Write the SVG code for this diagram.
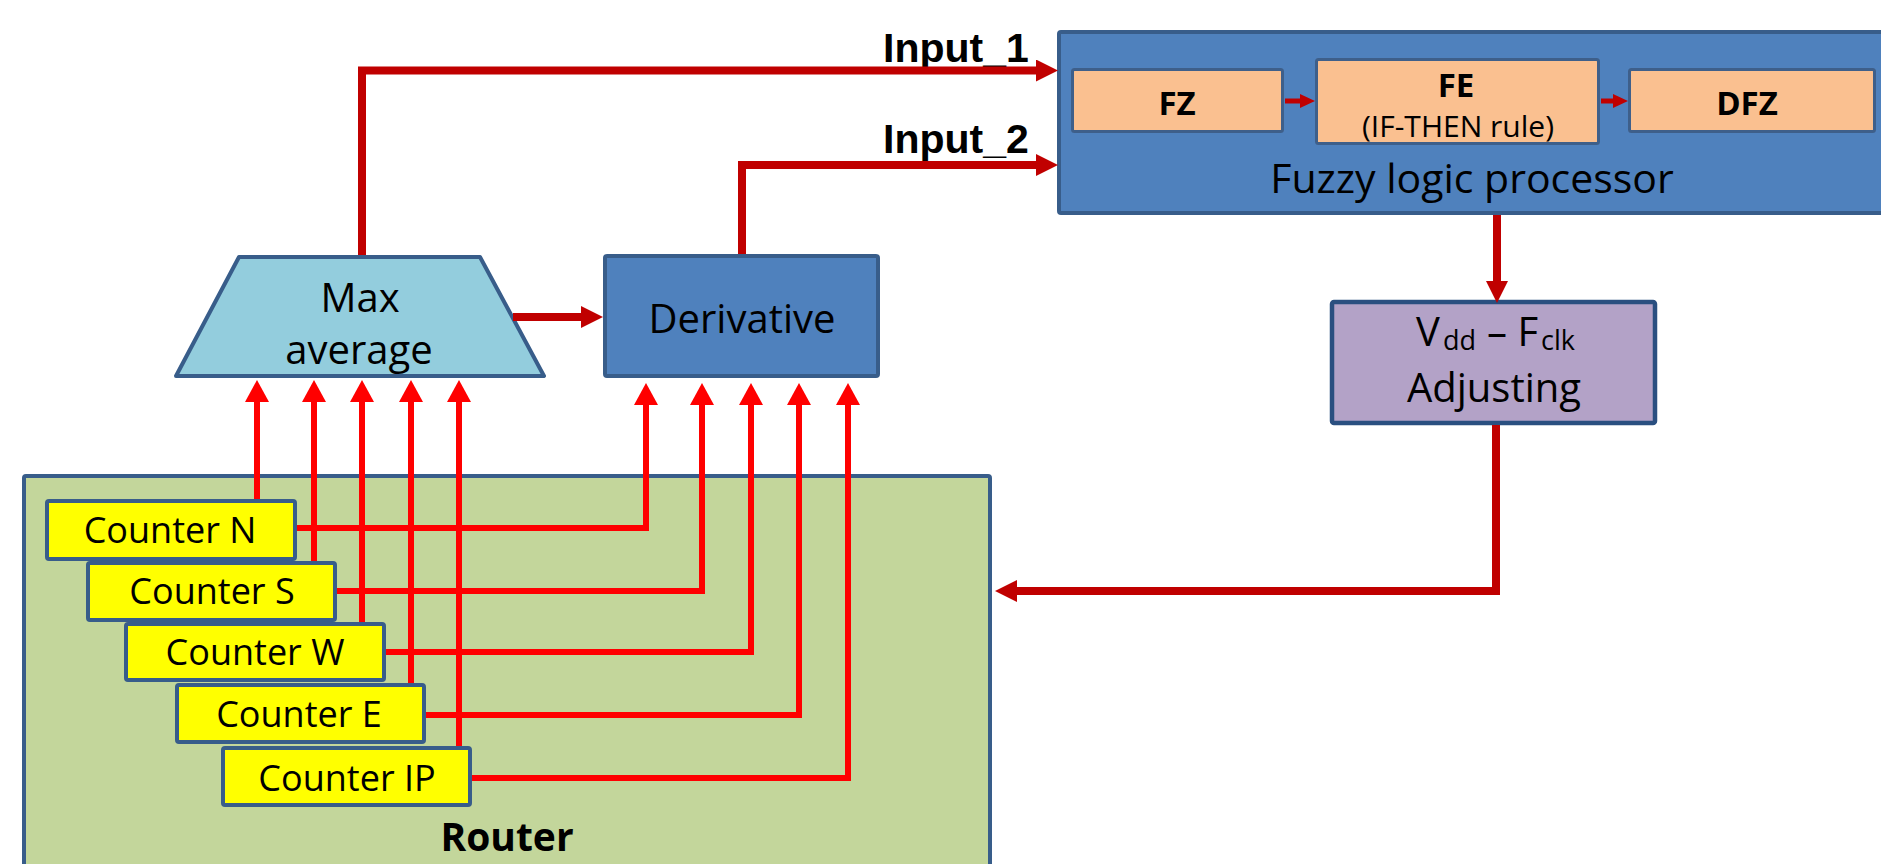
<svg xmlns="http://www.w3.org/2000/svg" width="1881" height="864" viewBox="0 0 1881 864">
<style>
.box{stroke:#385d8a;stroke-width:4}
.blue{fill:#4f81bd}
.peach{fill:#fac090;stroke:#3e5f8a;stroke-width:3}
.ctr{fill:#ffff00;stroke:#385d8a;stroke-width:4}
.t{font-family:"Open Sans","Noto Sans","Liberation Sans",sans-serif;fill:#000;text-anchor:middle}
.s{font-family:"Open Sans","Noto Sans","Liberation Sans",sans-serif;fill:#000;text-anchor:start}
.b{font-weight:bold}
.inp{font-family:"Liberation Sans",Arial,sans-serif;font-weight:bold;font-size:41px;fill:#000}
.dr{fill:none;stroke:#c00000;stroke-width:8;stroke-linejoin:miter}
.br{fill:none;stroke:#ff0000;stroke-width:6;stroke-linejoin:miter}
.sm{fill:none;stroke:#c00000;stroke-width:5}
</style>
<defs>
<marker id="hd" markerUnits="userSpaceOnUse" markerWidth="22" markerHeight="22" refX="0" refY="11" orient="auto" viewBox="0 0 22 22"><path d="M0,0 L22,11 L0,22 z" fill="#c00000"/></marker>
<marker id="hr" markerUnits="userSpaceOnUse" markerWidth="22" markerHeight="24" refX="0" refY="12" orient="auto" viewBox="0 0 22 24"><path d="M0,0 L22,12 L0,24 z" fill="#ff0000"/></marker>
<marker id="hs" markerUnits="userSpaceOnUse" markerWidth="15" markerHeight="14" refX="0" refY="7" orient="auto" viewBox="0 0 15 14"><path d="M0,0 L15,7 L0,14 z" fill="#c00000"/></marker>
</defs>
<rect width="1881" height="864" fill="#ffffff"/>

<g id="router">
<rect x="24" y="476" width="966" height="400" rx="2" fill="#c3d69b" class="box"/>
<text class="t b" x="507" y="851" font-size="39">Router</text>
</g>

<g id="counter-n">
<rect class="ctr" x="47" y="501" width="248" height="58" rx="2"/>
<text class="t" x="170" y="543" font-size="36">Counter N</text>
</g>
<g id="counter-s">
<rect class="ctr" x="88" y="563" width="247" height="57" rx="2"/>
<text class="t" x="212" y="604" font-size="36">Counter S</text>
</g>
<g id="counter-w">
<rect class="ctr" x="126" y="624" width="258" height="56" rx="2"/>
<text class="t" x="255" y="665" font-size="36">Counter W</text>
</g>
<g id="counter-e">
<rect class="ctr" x="177" y="685" width="247" height="57" rx="2"/>
<text class="t" x="299" y="727" font-size="36">Counter E</text>
</g>
<g id="counter-ip">
<rect class="ctr" x="223" y="748" width="247" height="57" rx="2"/>
<text class="t" x="347" y="791" font-size="36">Counter IP</text>
</g>

<g id="max-average">
<polygon points="239,257 480,257 544,376 176,376" fill="#93cddd" class="box" stroke-linejoin="round"/>
<text class="t" x="360" y="312" font-size="40">Max</text>
<text class="t" x="359" y="364" font-size="40">average</text>
</g>

<g id="derivative">
<rect class="box blue" x="605" y="256" width="273" height="120" rx="2"/>
<text class="t" x="742" y="333" font-size="40">Derivative</text>
</g>

<g id="fuzzy-logic-processor">
<rect class="box blue" x="1059" y="32" width="860" height="181" rx="2"/>
<text class="t" x="1472" y="193" font-size="41">Fuzzy logic processor</text>
</g>
<g id="fz">
<rect class="peach" x="1072.5" y="69.5" width="210" height="62" rx="2"/>
<text class="t b" x="1177" y="115" font-size="33">FZ</text>
</g>
<g id="fe">
<rect class="peach" x="1316.5" y="59.5" width="282" height="84" rx="2"/>
<text class="t b" x="1456" y="97" font-size="33">FE</text>
<text class="t" x="1458" y="137" font-size="30">(IF-THEN rule)</text>
</g>
<g id="dfz">
<rect class="peach" x="1629.5" y="69.5" width="245" height="62" rx="2"/>
<text class="t b" x="1747" y="115" font-size="33">DFZ</text>
</g>

<g id="vdd-fclk-adjusting">
<rect x="1332" y="302" width="323" height="121" rx="2" fill="#b3a2c7" stroke="#2a4f80" stroke-width="4.5"/>
<text class="s" x="1416" y="346" font-size="40">V</text>
<text class="s" x="1443" y="350" font-size="27">dd</text>
<text class="s" x="1487" y="346" font-size="40">– F</text>
<text class="s" x="1541" y="350" font-size="27">clk</text>
<text class="t" x="1494" y="402" font-size="40">Adjusting</text>
</g>

<g id="labels">
<text class="inp" x="883" y="62">Input_1</text>
<text class="inp" x="883" y="153">Input_2</text>
</g>

<g id="connectors">
<path class="dr" d="M362,255 V70.5 H1036" marker-end="url(#hd)"/>
<path class="dr" d="M742,254 V165 H1036" marker-end="url(#hd)"/>
<path class="dr" d="M513,317 H581" marker-end="url(#hd)"/>
<path class="dr" d="M1497,215 V281" marker-end="url(#hd)"/>
<path class="dr" d="M1496,425 V591 H1017" marker-end="url(#hd)"/>
<path class="sm" d="M1285,101 H1300" marker-end="url(#hs)"/>
<path class="sm" d="M1601,101 H1613" marker-end="url(#hs)"/>

<path class="br" d="M257,499 V402" marker-end="url(#hr)"/>
<path class="br" d="M314,561 V402" marker-end="url(#hr)"/>
<path class="br" d="M362,622 V402" marker-end="url(#hr)"/>
<path class="br" d="M411,683 V402" marker-end="url(#hr)"/>
<path class="br" d="M459,746 V402" marker-end="url(#hr)"/>

<path class="br" d="M297,528 H646 V405" marker-end="url(#hr)"/>
<path class="br" d="M337,591 H702 V405" marker-end="url(#hr)"/>
<path class="br" d="M386,652 H751 V405" marker-end="url(#hr)"/>
<path class="br" d="M426,715 H799 V405" marker-end="url(#hr)"/>
<path class="br" d="M472,778 H848 V405" marker-end="url(#hr)"/>
</g>
</svg>
